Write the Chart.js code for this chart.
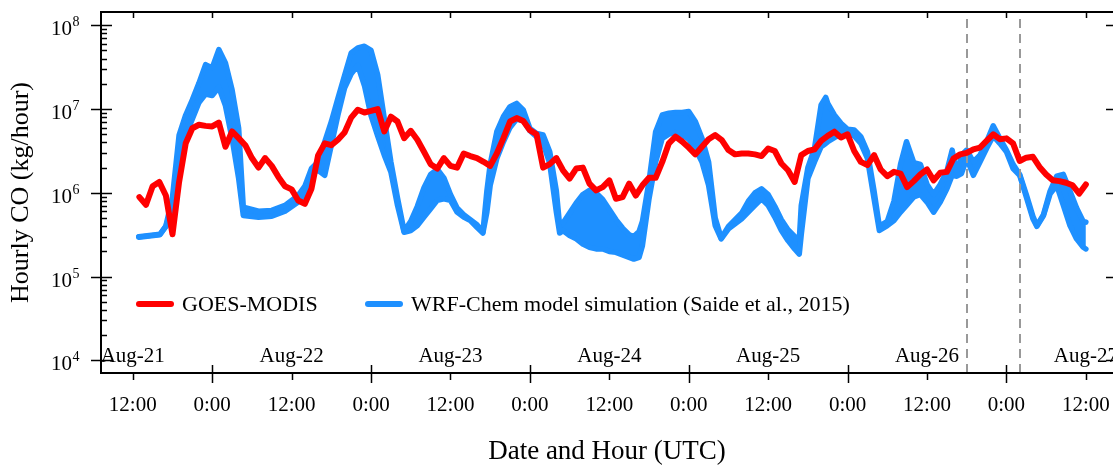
<!DOCTYPE html>
<html>
<head>
<meta charset="utf-8">
<script src="https://cdn.jsdelivr.net/npm/chart.js@4.4.0/dist/chart.umd.min.js"></script>
<style>
  html, body { margin: 0; padding: 0; background: #fff; }
  #wrap { width: 1113px; height: 465px; }
</style>
</head>
<body>
<div id="wrap"><canvas id="chart"></canvas></div>
<script>
// hours counted from Aug-21 0:00 UTC
// GOES-MODIS: one value per hour, first one at goesStartHour
const goesStartHour = 13;
const goesValues = [
  8.9e5, 7.2e5, 1.2e6, 1.35e6, 9.3e5, 3.2e5, 1.35e6, 3.9e6, 5.9e6, 6.5e6, 6.3e6, 6.2e6,
  6.9e6, 3.55e6, 5.4e6, 4.5e6, 3.7e6, 2.6e6, 2.0e6, 2.6e6, 2.1e6, 1.55e6, 1.2e6, 1.1e6,
  8.1e5, 7.4e5, 1.12e6, 2.8e6, 3.9e6, 3.7e6, 4.3e6, 5.25e6, 7.9e6, 9.8e6, 9.1e6, 9.5e6,
  1.0e7, 5.4e6, 8.1e6, 7.1e6, 4.5e6, 5.5e6, 4.3e6, 3.1e6, 2.2e6, 1.95e6, 2.6e6, 2.1e6,
  2.0e6, 2.95e6, 2.75e6, 2.6e6, 2.35e6, 2.1e6, 2.95e6, 4.5e6, 7.1e6, 7.8e6, 7.2e6, 5.6e6,
  5.0e6, 2.0e6, 2.2e6, 2.6e6, 1.86e6, 1.48e6, 1.95e6, 2.0e6, 1.29e6, 1.07e6, 1.17e6, 1.41e6,
  8.5e5, 8.9e5, 1.29e6, 9.3e5, 1.23e6, 1.51e6, 1.51e6, 2.34e6, 3.9e6, 4.7e6, 4.1e6, 3.47e6,
  2.88e6, 3.55e6, 4.37e6, 4.9e6, 4.27e6, 3.24e6, 2.88e6, 2.95e6, 2.95e6, 2.88e6, 2.75e6, 3.39e6,
  3.16e6, 2.24e6, 1.86e6, 1.35e6, 2.82e6, 3.16e6, 3.31e6, 4.17e6, 4.79e6, 5.37e6, 4.57e6, 5.0e6,
  3.16e6, 2.34e6, 2.14e6, 2.82e6, 1.9e6, 1.58e6, 1.78e6, 1.7e6, 1.17e6, 1.38e6, 1.66e6, 1.9e6,
  1.41e6, 1.74e6, 1.78e6, 2.57e6, 2.88e6, 3.0e6, 3.31e6, 3.47e6, 4.17e6, 5.0e6, 4.37e6, 4.47e6,
  3.89e6, 2.4e6, 2.63e6, 2.69e6, 2.04e6, 1.66e6, 1.41e6, 1.38e6, 1.32e6, 1.23e6, 9.8e5, 1.26e6
];

// WRF-Chem ensemble range (upper / lower edge of the band)
const wrfHours = [
  12.9, 16.1, 17, 18, 19, 20, 21, 22, 23, 24,
  25, 26, 27, 28, 28.7, 31, 33, 35, 37, 38,
  39, 40, 41, 42, 43, 44, 45, 46, 47, 48,
  49, 50, 51, 52, 53, 54, 55, 56, 57, 58,
  59, 60, 61, 62, 63, 64, 64.9, 65.5, 66, 67,
  68, 69, 70, 71, 72, 73, 74, 75, 76, 76.5,
  77, 78, 79, 80, 81, 82, 83, 84, 85, 86,
  87, 87.7, 88.5, 89, 90, 91, 92, 93, 94, 95,
  96, 97, 98, 99, 100, 100.9, 102, 103, 104, 105,
  106, 107, 108, 109, 110, 111, 112, 112.7, 113, 114,
  115, 116, 116.7, 117, 118, 119, 120, 121, 122, 123,
  124, 124.8, 126, 127, 128, 128.9, 130, 131, 132, 133,
  134, 135, 135.8, 136.5, 137.2, 138, 139, 140, 141, 142,
  143, 144, 145, 146, 147, 148, 148.6, 149.6, 150.6, 151.6,
  152.6, 153.6, 154.6, 155.6, 156
];
const wrfUpper = [
  3.0e5, 3.2e5, 4.0e5, 8.9e5, 4.9e6, 8.5e6, 1.29e7, 2.04e7, 3.39e7, 3.09e7,
  5.13e7, 3.55e7, 1.7e7, 5.89e6, 6.76e5, 6.03e5, 6.17e5, 7.08e5, 9.33e5, 1.2e6,
  1.95e6, 2.34e6, 4.07e6, 7.08e6, 1.35e7, 2.51e7, 4.68e7, 5.37e7, 5.62e7, 5.01e7,
  2.57e7, 7.76e6, 2.34e6, 8.71e5, 3.47e5, 4.57e5, 6.92e5, 1.15e6, 1.66e6, 1.91e6,
  1.51e6, 9.55e5, 6.61e5, 5.5e5, 4.79e5, 4.17e5, 3.39e5, 1.05e6, 2.19e6, 5.37e6,
  8.13e6, 1.07e7, 1.17e7, 9.77e6, 5.89e6, 5.13e6, 4.9e6, 3.09e6, 1.05e6, 3.98e5,
  4.37e5, 5.75e5, 7.59e5, 9.55e5, 1.07e6, 1.0e6, 8.32e5, 6.31e5, 4.79e5, 3.8e5,
  3.16e5, 3.02e5, 3.47e5, 4.57e5, 1.38e6, 5.37e6, 8.51e6, 8.91e6, 9.12e6, 9.12e6,
  9.33e6, 7.08e6, 4.47e6, 2.34e6, 5.01e5, 2.88e5, 3.98e5, 4.79e5, 5.75e5, 7.94e5,
  1.0e6, 1.12e6, 9.55e5, 6.92e5, 4.79e5, 3.63e5, 3.02e5, 2.75e5, 7.08e5, 2.0e6,
  3.39e6, 1.12e7, 1.38e7, 1.17e7, 8.51e6, 6.76e6, 5.75e6, 5.62e6, 4.68e6, 3.09e6,
  1.05e6, 3.98e5, 4.57e5, 7.94e5, 2.19e6, 4.07e6, 2.29e6, 2.19e6, 1.26e6, 9.55e5,
  1.26e6, 1.82e6, 3.24e6, 1.66e6, 2.82e6, 3.24e6, 2.34e6, 2.82e6, 4.07e6, 6.31e6,
  4.47e6, 3.24e6, 2.19e6, 1.66e6, 9.55e5, 5.25e5, 4.07e5, 5.5e5, 1.05e6, 1.58e6,
  1.66e6, 1.05e6, 6.61e5, 4.57e5, 4.47e5
];
const wrfLower = [
  2.95e5, 3.16e5, 3.98e5, 7.08e5, 2.82e6, 4.79e6, 7.59e6, 1.2e7, 1.51e7, 1.45e7,
  1.82e7, 1.1e7, 4.47e6, 1.48e6, 5.37e5, 5.13e5, 5.25e5, 6.03e5, 7.76e5, 9.77e5,
  1.7e6, 1.86e6, 1.62e6, 3.72e6, 8.51e6, 1.78e7, 2.63e7, 3.31e7, 1.91e7, 8.32e6,
  4.79e6, 2.82e6, 1.78e6, 7.08e5, 3.39e5, 3.55e5, 4.07e5, 5.13e5, 6.46e5, 8.13e5,
  8.51e5, 8.13e5, 5.89e5, 5.13e5, 4.68e5, 3.89e5, 3.31e5, 5.89e5, 1.23e6, 2.57e6,
  4.07e6, 6.03e6, 7.59e6, 7.24e6, 5.5e6, 4.68e6, 3.89e6, 2.24e6, 5.89e5, 3.31e5,
  3.55e5, 3.09e5, 2.82e5, 2.45e5, 2.24e5, 2.14e5, 2.14e5, 2.0e5, 1.95e5, 1.82e5,
  1.7e5, 1.62e5, 1.7e5, 2.34e5, 8.51e5, 2.34e6, 4.47e6, 5.01e6, 5.25e6, 4.9e6,
  4.37e6, 3.39e6, 2.34e6, 1.23e6, 4.07e5, 2.82e5, 3.72e5, 4.27e5, 4.9e5, 5.89e5,
  7.08e5, 8.51e5, 7.08e5, 5.13e5, 3.55e5, 2.69e5, 2.14e5, 1.86e5, 3.16e5, 1.48e6,
  2.34e6, 3.55e6, 3.89e6, 4.07e6, 4.57e6, 5.01e6, 5.13e6, 4.79e6, 3.89e6, 2.57e6,
  8.51e5, 3.55e5, 4.07e5, 4.68e5, 5.89e5, 7.08e5, 8.91e5, 9.55e5, 7.76e5, 5.89e5,
  7.76e5, 1.12e6, 1.62e6, 1.58e6, 1.7e6, 2.57e6, 1.62e6, 2.34e6, 3.39e6, 4.79e6,
  3.89e6, 3.09e6, 1.95e6, 1.62e6, 8.91e5, 4.9e5, 3.98e5, 5.37e5, 9.77e5, 1.23e6,
  7.08e5, 4.07e5, 2.82e5, 2.24e5, 2.14e5
];

const dayNames = ['Aug-21', 'Aug-22', 'Aug-23', 'Aug-24', 'Aug-25', 'Aug-26', 'Aug-27'];
const dayLabelHours = [12, 36, 60, 84, 108, 132, 156];
const markerHours = [138, 146];
const yDecades = [1e4, 1e5, 1e6, 1e7, 1e8];
const yExponents = ['4', '5', '6', '7', '8'];
const legendNames = ['GOES-MODIS', 'WRF-Chem model simulation (Saide et al., 2015)'];

const RED = '#ff0000';
const BLUE = '#1e90ff';
const SERIF = '"Liberation Serif", "Times New Roman", serif';

const goesPoints = goesValues.map((v, i) => ({ x: goesStartHour + i, y: v }));
const lowerPoints = wrfHours.map((h, i) => ({ x: h, y: wrfLower[i] }));
const upperPoints = wrfHours.map((h, i) => ({ x: h, y: wrfUpper[i] }));

// dashed markers go between the blue band and the red line
const markerPlugin = {
  id: 'markers',
  afterDatasetDraw(chart, args) {
    if (args.index !== 1) return;
    const { ctx, chartArea } = chart;
    const xs = chart.scales.x;
    ctx.save();
    ctx.strokeStyle = '#999';
    ctx.lineWidth = 2;
    ctx.setLineDash([9, 6]);
    markerHours.forEach((h) => {
      const px = Math.round(xs.getPixelForValue(h));
      ctx.beginPath();
      ctx.moveTo(px, chartArea.top + 7);
      ctx.lineTo(px, chartArea.bottom);
      ctx.stroke();
    });
    ctx.restore();
  },
};

const framePlugin = {
  id: 'frame',
  afterDraw(chart) {
    const { ctx, chartArea } = chart;
    const xs = chart.scales.x;
    const ys = chart.scales.y;
    const { left, right, top, bottom } = chartArea;
    ctx.save();
    ctx.strokeStyle = '#000';
    ctx.fillStyle = '#000';

    // spines (right one falls off the picture)
    ctx.lineWidth = 2;
    ctx.beginPath();
    ctx.moveTo(right + 2, top);
    ctx.lineTo(left, top);
    ctx.lineTo(left, bottom);
    ctx.lineTo(right + 2, bottom);
    ctx.stroke();

    // time ticks, bottom and top
    ctx.lineWidth = 1.5;
    xs.ticks.forEach((t) => {
      const px = Math.round(xs.getPixelForValue(t.value)) + 0.5;
      const midnight = t.value % 24 === 0;
      ctx.beginPath();
      ctx.moveTo(px, midnight ? bottom - 8 : bottom);
      ctx.lineTo(px, midnight ? bottom + 10 : bottom + 7);
      ctx.moveTo(px, top);
      ctx.lineTo(px, top + 6);
      ctx.stroke();
    });

    // log ticks, left (major both sides, minor inside) and right
    yDecades.forEach((d, i) => {
      const py = Math.round(ys.getPixelForValue(d)) + 0.5;
      ctx.beginPath();
      ctx.moveTo(left - 10, py);
      ctx.lineTo(left + 11, py);
      ctx.moveTo(right - 7, py);
      ctx.lineTo(right, py);
      ctx.stroke();
      if (i < yDecades.length - 1) {
        for (let m = 2; m <= 9; m++) {
          const my = Math.round(ys.getPixelForValue(d * m)) + 0.5;
          ctx.beginPath();
          ctx.moveTo(left, my);
          ctx.lineTo(left + 6, my);
          ctx.stroke();
        }
      }
      ctx.textBaseline = 'alphabetic';
      ctx.font = '21px ' + SERIF;
      ctx.textAlign = 'right';
      ctx.fillText('10', 72, py + 9);
      ctx.font = '14px ' + SERIF;
      ctx.textAlign = 'left';
      ctx.fillText(yExponents[i], 72.5, py);
    });

    // day names just above the time axis
    ctx.font = '21px ' + SERIF;
    ctx.textAlign = 'center';
    ctx.textBaseline = 'middle';
    dayLabelHours.forEach((h, i) => {
      ctx.fillText(dayNames[i], xs.getPixelForValue(h), bottom - 17);
    });

    // legend inside the plot
    const ly = 304;
    ctx.lineCap = 'round';
    ctx.lineWidth = 6;
    [[139, 171, RED], [368, 400, BLUE]].forEach(([x0, x1, c]) => {
      ctx.strokeStyle = c;
      ctx.beginPath();
      ctx.moveTo(x0, ly);
      ctx.lineTo(x1, ly);
      ctx.stroke();
    });
    ctx.font = '22px ' + SERIF;
    ctx.textAlign = 'left';
    ctx.fillText(legendNames[0], 182, ly + 1);
    ctx.fillText(legendNames[1], 411, ly + 1);

    // axis titles
    ctx.font = '27px ' + SERIF;
    ctx.textAlign = 'center';
    ctx.fillText('Date and Hour (UTC)', (left + right) / 2, 452);
    ctx.save();
    ctx.translate(21, (top + bottom) / 2);
    ctx.rotate(-Math.PI / 2);
    ctx.font = '26px ' + SERIF;
    ctx.fillText('Hourly CO (kg/hour)', 0, 0);
    ctx.restore();

    ctx.restore();
  },
};

new Chart(document.getElementById('chart'), {
  type: 'line',
  data: {
    datasets: [
      {
        label: legendNames[0],
        data: goesPoints,
        borderColor: RED,
        borderWidth: 6,
        borderJoinStyle: 'round',
        borderCapStyle: 'round',
        pointRadius: 0,
        fill: false,
      },
      {
        label: 'WRF lower',
        data: lowerPoints,
        borderColor: BLUE,
        borderWidth: 5.5,
        borderJoinStyle: 'round',
        borderCapStyle: 'round',
        pointRadius: 0,
        fill: false,
      },
      {
        label: legendNames[1],
        data: upperPoints,
        borderColor: BLUE,
        backgroundColor: BLUE,
        borderWidth: 5.5,
        borderJoinStyle: 'round',
        borderCapStyle: 'round',
        pointRadius: 0,
        fill: '-1',
      },
    ],
  },
  options: {
    responsive: true,
    maintainAspectRatio: false,
    animation: false,
    devicePixelRatio: 1,
    layout: { padding: { top: 12, right: 0, left: 0, bottom: 0 } },
    plugins: { legend: { display: false }, tooltip: { enabled: false } },
    scales: {
      x: {
        type: 'linear',
        min: 7.2,
        max: 160.1,
        grid: { display: false, drawTicks: false },
        border: { display: false },
        ticks: {
          stepSize: 12,
          includeBounds: false,
          autoSkip: false,
          maxRotation: 0,
          padding: 20,
          color: '#000',
          font: { family: SERIF, size: 21 },
          callback: (v) => (v % 24 === 12 ? '12:00' : '0:00'),
        },
        afterFit: (s) => {
          s.height = 92;
          s.paddingLeft = 0;
          s.paddingRight = 0;
        },
      },
      y: {
        type: 'logarithmic',
        min: 7080,
        max: 1.44e8,
        grid: { display: false, drawTicks: false },
        border: { display: false },
        ticks: { display: false },
        afterFit: (s) => { s.width = 101; },
      },
    },
  },
  plugins: [markerPlugin, framePlugin],
});
</script>
</body>
</html>
